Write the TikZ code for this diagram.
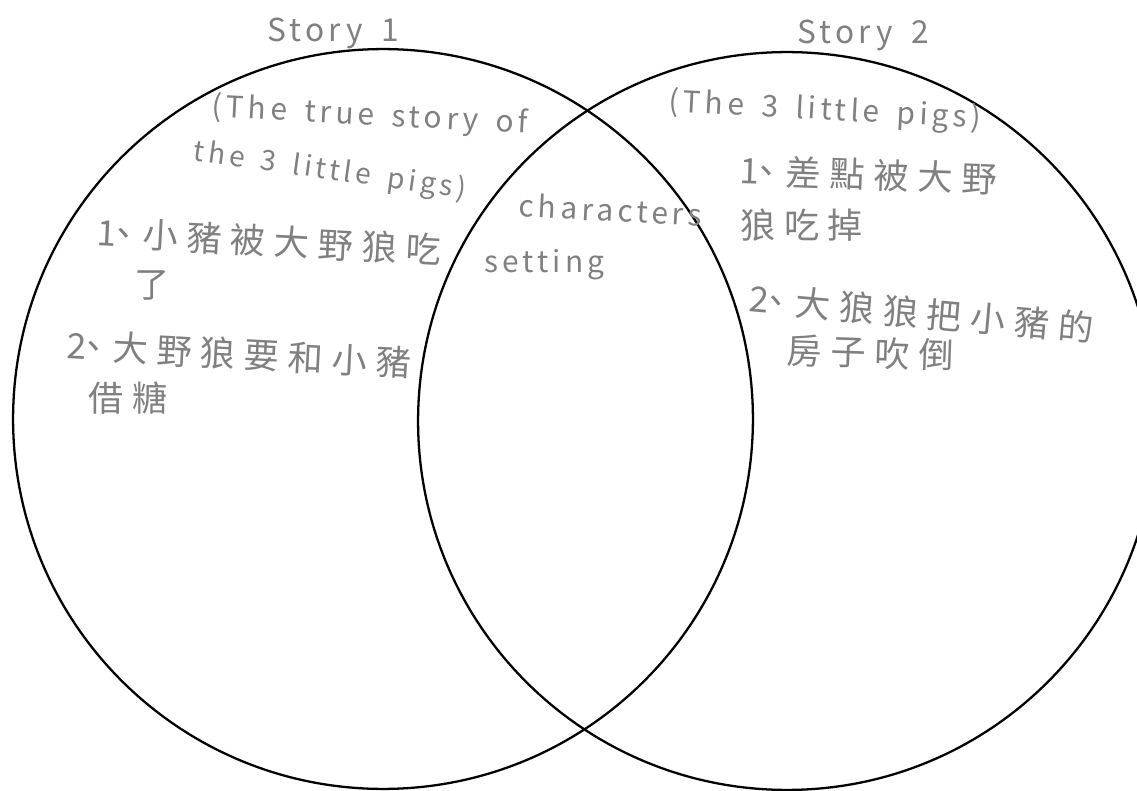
\documentclass[tikz,border=0pt]{standalone}
\usepackage{fontspec}
\setmainfont{Noto Sans CJK TC}
\newfontfamily\cjk{Noto Sans CJK TC}[LetterSpace=25]
\newfontfamily\hand{Noto Sans CJK TC}[LetterSpace=14, WordSpace=1.6]
\usepackage{xcolor}
\usepackage{tikz}
\definecolor{pencil}{RGB}{128,128,128}
\newcommand\itemno[1]{#1\kern-.3em、\kern.05em}
\tikzset{
  ring/.style={draw=black, line width=1.3pt},
  note/.style={text=pencil, inner sep=1pt, anchor=west},
  title/.style={note, font=\hand\fontsize{18}{20}\selectfont},
  eng/.style={note, font=\hand\fontsize{17}{19}\selectfont},
  zh/.style={note, font=\cjk\fontsize{20}{22}\selectfont},
}

\begin{document}
\begin{tikzpicture}[x=0.02cm, y=-0.02cm]
  \useasboundingbox (0,0) rectangle (1137,791);
  \clip (0,0) rectangle (1137,791);
  % the two rings
  \draw[ring] (383,419) circle[radius=7.4cm];
  \draw[ring] (787,421) circle[radius=7.38cm];
  % story 1
  \node[title] (st1) at (265,33) {Story 1};
  \node[eng, rotate=-3] (st1a) at (210,108) {(The true story of};
  \node[eng, rotate=-8, font=\hand\fontsize{16}{18}\selectfont] (st1b) at (192,152) {the 3 little pigs)};
  \node[zh, rotate=-3] (l1a) at (95,232) {\itemno{1}小豬被大野狼吃};
  \node[zh] (l1b) at (132,285) {了};
  \node[zh, rotate=-3] (l2a) at (65,345) {\itemno{2}大野狼要和小豬};
  \node[zh] (l2b) at (86,398) {借糖};
  % story 2
  \node[title] (st2) at (795,35) {Story 2};
  \node[eng, rotate=-3] (st2a) at (667,103) {(The 3 little pigs)};
  \node[zh, rotate=-2] (r1a) at (738,170) {\itemno{1}差點被大野};
  \node[zh] (r1b) at (738,225) {狼吃掉};
  \node[zh, rotate=-5] (r2a) at (748,298) {\itemno{2}大狼狼把小豬的};
  \node[zh, rotate=-2] (r2b) at (785,350) {房子吹倒};
  % shared
  \node[eng, rotate=-3] (mid1) at (517,205) {characters};
  \node[eng] (mid2) at (482,265) {setting};
\end{tikzpicture}
\end{document}
